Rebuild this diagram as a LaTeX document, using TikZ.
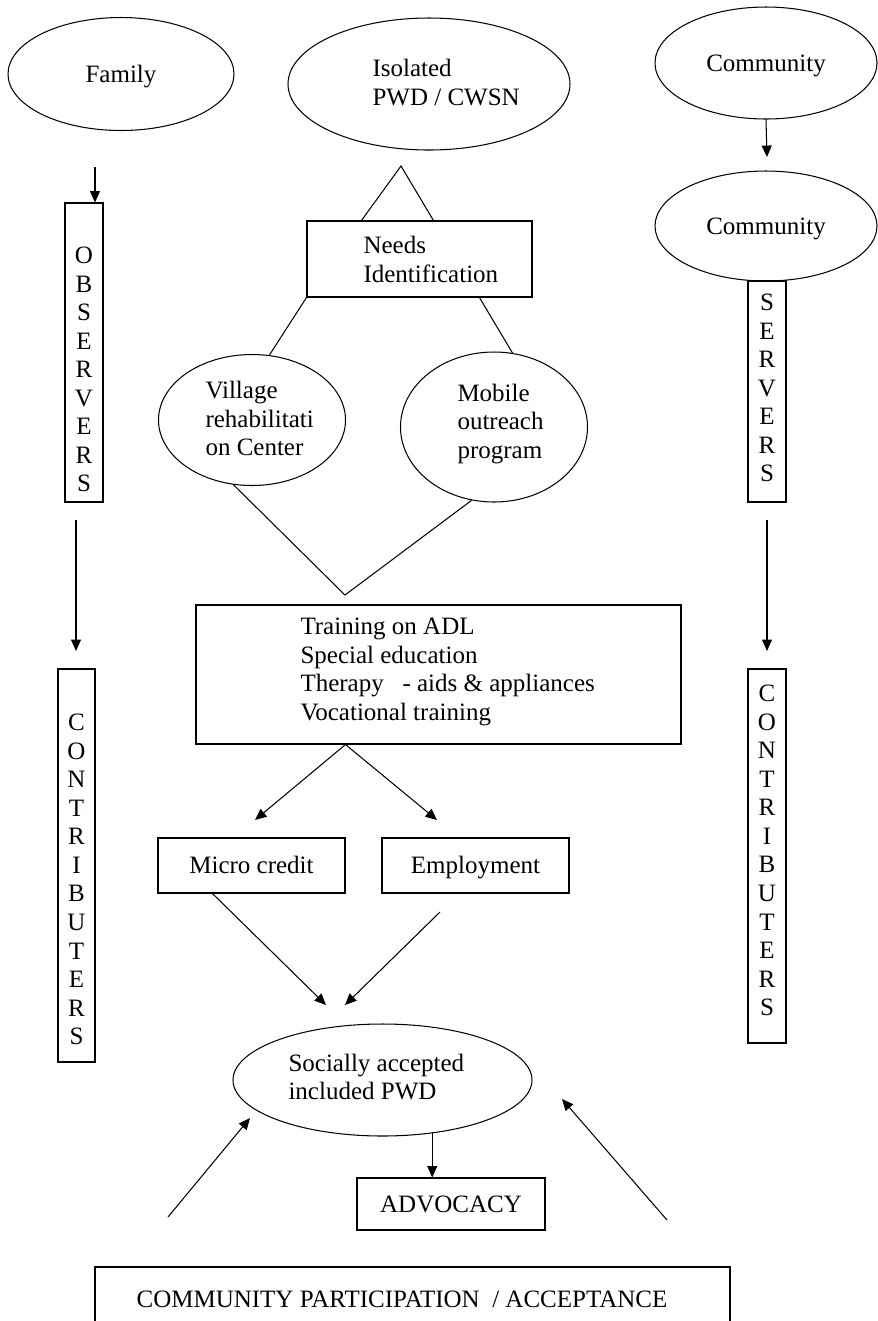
\documentclass[tikz,border=0pt]{standalone}
\usepackage{fontspec}
\setmainfont{Liberation Serif}
\usetikzlibrary{shapes.geometric, arrows.meta}
\newcommand{\unitsize}{0.48pt}

\begin{document}
\begin{tikzpicture}[line width=0.5pt, font=\fontsize{12}{13.8}\selectfont]
\useasboundingbox (0,0) rectangle (878*\unitsize,-1321*\unitsize);
\tikzstyle{oval}=[draw, ellipse, inner sep=0pt, text height=8pt, text depth=0pt]
\tikzstyle{box}=[draw, rectangle, inner sep=0pt, text height=8pt, text depth=0pt]
\tikzstyle{txt}=[anchor=west, align=left, inner sep=0pt]
\tikzstyle{column}=[align=center, inner sep=0pt, font=\fontsize{12}{13.7}\selectfont]
\tikzstyle{arr}=[-{Triangle[length=5.5pt, width=4.8pt]}]


% top row
\node[oval, minimum width=226*\unitsize, minimum height=113*\unitsize] (family) at (121*\unitsize,-74*\unitsize) {Family};

\node[oval, minimum width=282*\unitsize, minimum height=132*\unitsize] (isolated) at (429*\unitsize,-84*\unitsize) {};
\node[txt] (isolatedtxt) at (372*\unitsize,-82.5*\unitsize) {Isolated\\PWD / CWSN};

\node[oval, minimum width=222*\unitsize, minimum height=112*\unitsize] (comtop) at (766*\unitsize,-63*\unitsize) {Community};


% side columns
\node[box, minimum width=38*\unitsize, minimum height=299*\unitsize] (observers) at (84*\unitsize,-352.5*\unitsize) {};
\node[column] (observerstxt) at (84*\unitsize,-369.5*\unitsize) {O\\B\\S\\E\\R\\V\\E\\R\\S};

\node[box, minimum width=38*\unitsize, minimum height=221*\unitsize] (servers) at (767*\unitsize,-391.5*\unitsize) {};
\node[column] (serverstxt) at (767*\unitsize,-388*\unitsize) {S\\E\\R\\V\\E\\R\\S};

\node[oval, minimum width=222*\unitsize, minimum height=110*\unitsize] (commid) at (766*\unitsize,-226*\unitsize) {Community};

\node[box, minimum width=37*\unitsize, minimum height=393*\unitsize] (contribleft) at (76.5*\unitsize,-865.5*\unitsize) {};
\node[column] (contriblefttxt) at (76.5*\unitsize,-879.5*\unitsize) {C\\O\\N\\T\\R\\I\\B\\U\\T\\E\\R\\S};

\node[box, minimum width=38*\unitsize, minimum height=374*\unitsize] (contribright) at (767*\unitsize,-856*\unitsize) {};
\node[column] (contribrighttxt) at (767*\unitsize,-850.5*\unitsize) {C\\O\\N\\T\\R\\I\\B\\U\\T\\E\\R\\S};


% middle flow
\node[box, minimum width=225*\unitsize, minimum height=76*\unitsize] (needs) at (419.5*\unitsize,-259*\unitsize) {};
\node[txt] (needstxt) at (363*\unitsize,-259.5*\unitsize) {Needs\\Identification};

\node[oval, minimum width=187*\unitsize, minimum height=131*\unitsize] (village) at (252*\unitsize,-420*\unitsize) {};
\node[txt] (villagetxt) at (205*\unitsize,-418.5*\unitsize) {Village\\rehabilitati\\on Center};

\node[oval, minimum width=187*\unitsize, minimum height=150*\unitsize] (mobile) at (494*\unitsize,-427*\unitsize) {};
\node[txt] (mobiletxt) at (457*\unitsize,-424*\unitsize) {Mobile\\outreach\\program};

\node[box, minimum width=485*\unitsize, minimum height=139*\unitsize] (training) at (438.5*\unitsize,-674.5*\unitsize) {};
\node[txt] (trainingtxt) at (300*\unitsize,-672*\unitsize) {Training on ADL\\Special education\\Therapy\ \ \ - aids \& appliances\\Vocational training};

\node[box, minimum width=187*\unitsize, minimum height=55*\unitsize] (micro) at (251.5*\unitsize,-865.5*\unitsize) {Micro credit};

\node[box, minimum width=187*\unitsize, minimum height=55*\unitsize] (employ) at (475.5*\unitsize,-865.5*\unitsize) {Employment};

\node[oval, minimum width=299*\unitsize, minimum height=112*\unitsize] (social) at (382.5*\unitsize,-1080*\unitsize) {};
\node[txt] (socialtxt) at (288*\unitsize,-1077*\unitsize) {Socially accepted\\included PWD};

\node[box, minimum width=188*\unitsize, minimum height=52*\unitsize] (advocacy) at (451*\unitsize,-1204*\unitsize) {ADVOCACY};

\node[box, minimum width=635*\unitsize, minimum height=64*\unitsize] (participation) at (412.5*\unitsize,-1299*\unitsize) {};
\node (participationtxt) at (402*\unitsize,-1299*\unitsize) {COMMUNITY PARTICIPATION\ \ / ACCEPTANCE};


% free ends
\coordinate (famdown) at (95*\unitsize,-167*\unitsize);
\coordinate (comdown) at (767*\unitsize,-157*\unitsize);
\coordinate (leftfrom) at (76*\unitsize,-520*\unitsize);
\coordinate (leftto) at (76*\unitsize,-651*\unitsize);
\coordinate (rightfrom) at (767*\unitsize,-520*\unitsize);
\coordinate (rightto) at (767*\unitsize,-651*\unitsize);
\coordinate (apex) at (401*\unitsize,-166*\unitsize);
\coordinate (vee) at (345*\unitsize,-595*\unitsize);
\coordinate (microtip) at (255*\unitsize,-820*\unitsize);
\coordinate (employtip) at (437*\unitsize,-820*\unitsize);
\coordinate (microend) at (326*\unitsize,-1005*\unitsize);
\coordinate (employfrom) at (440*\unitsize,-912*\unitsize);
\coordinate (employend) at (345*\unitsize,-1005*\unitsize);
\coordinate (lowleft) at (168*\unitsize,-1217*\unitsize);
\coordinate (lowlefttip) at (250*\unitsize,-1118*\unitsize);
\coordinate (lowright) at (667*\unitsize,-1220*\unitsize);
\coordinate (lowrighttip) at (562*\unitsize,-1099*\unitsize);


% connectors
\draw[arr] (famdown) -- (famdown |- observers.north);
\draw[arr] (comtop.south) -- (comdown);
\draw[arr] (leftfrom) -- (leftto);
\draw[arr] (rightfrom) -- (rightto);

\draw ([xshift=55*\unitsize]needs.north west) -- (apex) -- ([xshift=127*\unitsize]needs.north west);
\draw (needs.south west) -- (village.75);
\draw ([xshift=173*\unitsize]needs.south west) -- (mobile.76);
\draw (village.254) -- (vee) -- (mobile.253);

\draw[arr] ([xshift=150*\unitsize]training.south west) -- (microtip);
\draw[arr] ([xshift=150*\unitsize]training.south west) -- (employtip);
\draw[arr] ([xshift=55*\unitsize]micro.south west) -- (microend);
\draw[arr] (employfrom) -- (employend);

\draw[arr] (social.-47.5) -- (social.-47.5 |- advocacy.north);
\draw[arr] (lowleft) -- (lowlefttip);
\draw[arr] (lowright) -- (lowrighttip);

\end{tikzpicture}
\end{document}
